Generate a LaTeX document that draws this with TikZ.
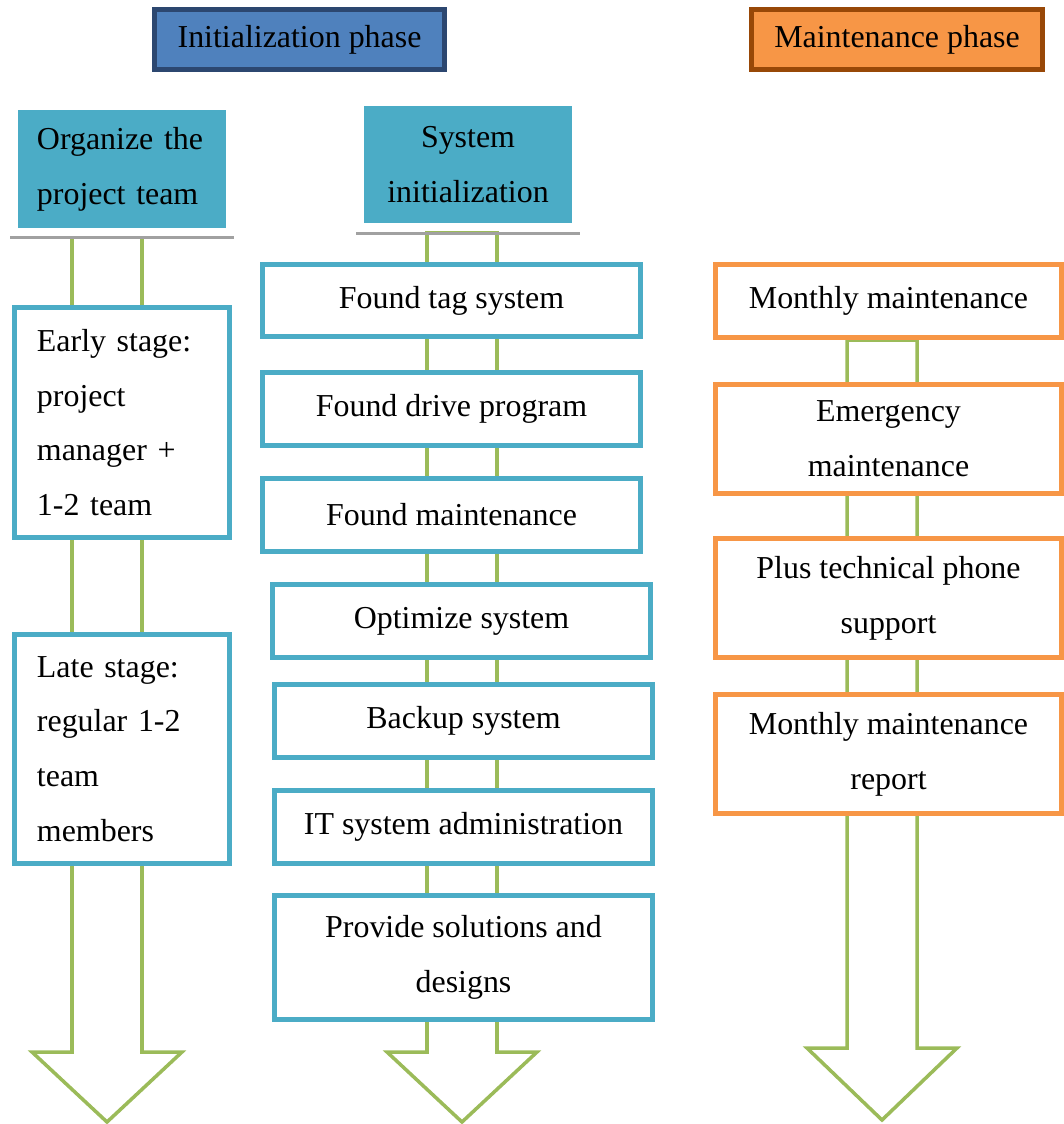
\documentclass[tikz,border=0pt]{standalone}
\usepackage{fontspec}
\setmainfont{Liberation Serif}
\definecolor{tealc}{HTML}{4BACC6}
\definecolor{orangec}{HTML}{F79646}
\definecolor{greenc}{HTML}{9BBB59}
\definecolor{bluec}{HTML}{4F81BD}
\definecolor{darkbluec}{HTML}{2C4770}
\definecolor{brownc}{HTML}{984807}
\tikzset{
  wh/.style 2 args={minimum width=#1*0.025cm,minimum height=#2*0.025cm},
  box/.style={draw=tealc,line width=3.5pt,fill=white,inner sep=0pt,align=center},
  obox/.style={box,draw=orangec},
  lbox/.style={box,align=left,text width=4.25cm},
  head/.style={box,fill=tealc,draw=none},
  phase/.style={box,line width=3.5pt},
  pipe/.style={draw=greenc,line width=2.5pt,line join=miter},
  bar/.style={fill=black!37}
}
\begin{document}
\begin{tikzpicture}[x=0.025cm,y=-0.025cm,font=\fontsize{22.7}{39}\selectfont]
\useasboundingbox (0,0) rectangle (1064,1124);
% block arrows behind the boxes
\draw[pipe] (72,236) -- (72,1052) -- (32,1052) -- (107,1122) -- (182,1052) -- (142,1052) -- (142,236);
\draw[pipe] (427,233) -- (427,1052) -- (387,1052) -- (462,1122) -- (537,1052) -- (497,1052) -- (497,233) -- cycle;
\draw[pipe] (847,340) -- (847,1048) -- (807,1048) -- (882,1120) -- (957,1048) -- (917,1048) -- (917,340) -- cycle;

% phases
\node[phase,fill=bluec,draw=darkbluec,wh={290}{60}] (init) at (299.5,39.5) {Initialization phase};
\node[phase,fill=orangec,draw=brownc,wh={291}{60}] (maint) at (897,39.5) {Maintenance phase};

% initialization, team
\fill[bar] (10,236) rectangle (234,239);
\node[head,align=left,text width=4.25cm,wh={208}{118}] (team) at (122,169) {Organize the\\project team};
\node[lbox,wh={215}{230}] (early) at (122,422.5) {Early stage:\\project\\manager +\\1-2 team};
\node[lbox,wh={215}{229}] (late) at (122,749) {Late stage:\\regular 1-2\\team\\members};

% initialization, system
\fill[bar] (356,232) rectangle (580,235);
\node[head,wh={208}{117}] (sysinit) at (468,164.5) {System\\initialization};
\node[box,wh={378}{72}] (tag) at (451.5,300.5) {Found tag system};
\node[box,wh={378}{73}] (drive) at (451.5,409) {Found drive program};
\node[box,wh={378}{73}] (fmaint) at (451.5,515) {Found maintenance};
\node[box,wh={378}{73}] (optim) at (461.5,621) {Optimize system};
\node[box,wh={378}{73}] (backup) at (463.5,721) {Backup system};
\node[box,wh={378}{73}] (itadmin) at (463.5,827) {IT system administration};
\node[box,wh={378}{124}] (solut) at (463.5,957.5) {Provide solutions and\\designs};

% maintenance
\node[obox,wh={346}{73}] (monthly) at (888.5,301) {Monthly maintenance};
\node[obox,wh={346}{109}] (emerg) at (888.5,439) {Emergency\\maintenance};
\node[obox,wh={346}{119}] (phone) at (888.5,598) {Plus technical phone\\support};
\node[obox,wh={346}{119}] (report) at (888.5,754) {Monthly maintenance\\report};
\end{tikzpicture}
\end{document}
